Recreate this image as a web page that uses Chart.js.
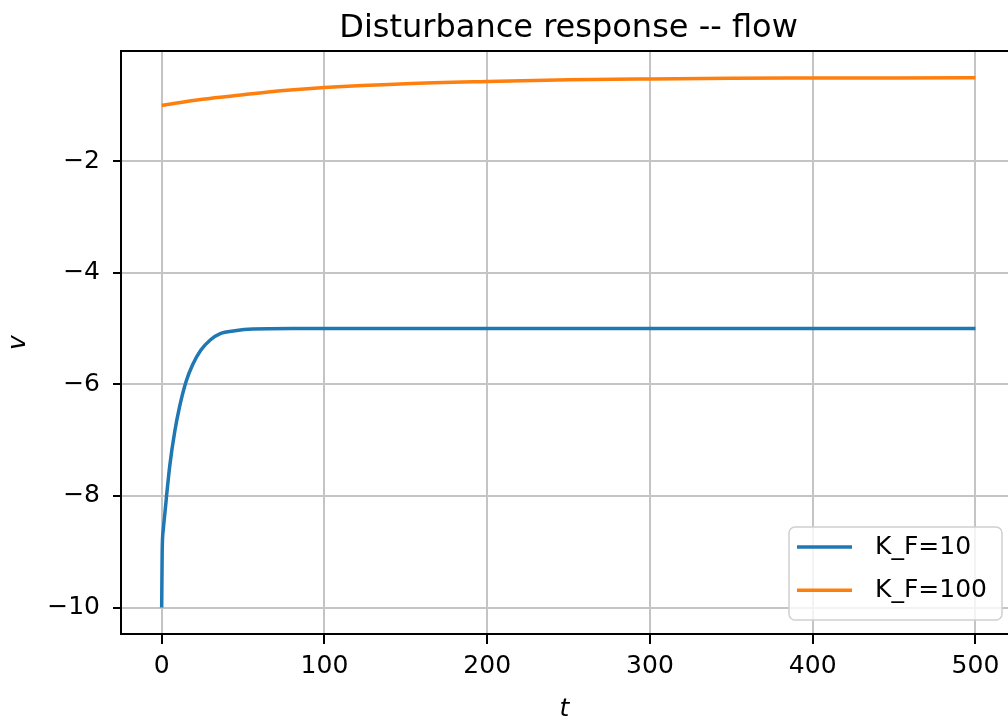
<!DOCTYPE html>
<html>
<head>
<meta charset="utf-8">
<title>Disturbance response -- flow</title>
<script src="https://cdn.jsdelivr.net/npm/chart.js@4.4.1/dist/chart.umd.min.js"></script>
<style>
  html, body { margin: 0; padding: 0; background: #fff; }
  canvas { display: block; }
</style>
</head>
<body>
<canvas id="responseChart" width="1008" height="725"></canvas>
<script>
// K_F = 10 response
const tFast = [0, 0.3, 1, 2, 3, 5, 8, 11, 15, 19, 24, 30, 36, 45, 56, 80, 500];
const vFast = [-10, -9.0, -8.6, -8.3, -8.0, -7.45, -6.85, -6.4, -5.95, -5.65, -5.39, -5.2, -5.09, -5.04, -5.01, -5.0, -5.0];

// K_F = 100 response
const tSlow = [0, 25, 50, 75, 100, 150, 200, 250, 300, 350, 400, 450, 500];
const vSlow = [-1.0, -0.89, -0.81, -0.735, -0.68, -0.61, -0.57, -0.54, -0.525, -0.515, -0.51, -0.507, -0.505];

const seriesLabels = ['K_F=10', 'K_F=100'];
const xTicks = [0, 100, 200, 300, 400, 500];
const yTicks = [-10, -8, -6, -4, -2];
const chartTitle = 'Disturbance response -- flow';

const blue = '#1f77b4';
const orange = '#ff7f0e';
const gridColor = '#c4c4c4';
const fontFamily = '"DejaVu Sans", sans-serif';

Chart.defaults.font.family = fontFamily;
Chart.defaults.color = '#000';

const toPoints = (ts, vs) => ts.map((t, i) => ({ x: t, y: vs[i] }));
const minus = v => (v < 0 ? '\u2212' : '') + Math.abs(v);

// title centred over the axes (x runs -25..525, the right part is off canvas)
const axesTitle = {
    id: 'axesTitle',
    afterDraw(chart) {
        const { ctx } = chart;
        const cx = chart.scales.x.getPixelForValue(250);
        ctx.save();
        ctx.font = '32px ' + fontFamily;
        ctx.fillStyle = '#000';
        ctx.textAlign = 'center';
        ctx.textBaseline = 'alphabetic';
        ctx.fillText(chartTitle, cx, 37);
        ctx.restore();
    }
};

// top spine
const topSpine = {
    id: 'topSpine',
    afterDatasetsDraw(chart) {
        const { ctx, chartArea: a } = chart;
        ctx.save();
        ctx.strokeStyle = '#000';
        ctx.lineWidth = 2;
        ctx.beginPath();
        ctx.moveTo(a.left - 1, a.top);
        ctx.lineTo(a.right, a.top);
        ctx.stroke();
        ctx.restore();
    }
};

// legend box sitting inside the plot, lower right
const insideLegend = {
    id: 'insideLegend',
    afterDraw(chart) {
        const { ctx } = chart;
        const box = { x: 789, y: 527, w: 213, h: 93, r: 6 };
        ctx.save();
        ctx.beginPath();
        ctx.roundRect(box.x, box.y, box.w, box.h, box.r);
        ctx.fillStyle = 'rgba(255,255,255,0.8)';
        ctx.fill();
        ctx.strokeStyle = '#d0d0d0';
        ctx.lineWidth = 1.5;
        ctx.stroke();

        ctx.font = '25px ' + fontFamily;
        ctx.textBaseline = 'middle';
        ctx.textAlign = 'left';
        chart.data.datasets.forEach((ds, i) => {
            const y = box.y + 20 + i * 43.3;
            ctx.strokeStyle = ds.borderColor;
            ctx.lineWidth = 3.5;
            ctx.beginPath();
            ctx.moveTo(box.x + 8, y);
            ctx.lineTo(box.x + 63, y);
            ctx.stroke();
            ctx.fillStyle = '#000';
            ctx.fillText(ds.label, box.x + 86, y);
        });
        ctx.restore();
    }
};

const ctxResponse = document.getElementById('responseChart').getContext('2d');
const responseChart = new Chart(ctxResponse, {
    type: 'line',
    data: {
        datasets: [{
            label: seriesLabels[0],
            data: toPoints(tFast, vFast),
            borderColor: blue,
            backgroundColor: blue,
            borderWidth: 3.5,
            pointRadius: 0,
            cubicInterpolationMode: 'monotone',
            fill: false
        }, {
            label: seriesLabels[1],
            data: toPoints(tSlow, vSlow),
            borderColor: orange,
            backgroundColor: orange,
            borderWidth: 3.5,
            pointRadius: 0,
            cubicInterpolationMode: 'monotone',
            fill: false
        }]
    },
    options: {
        responsive: false,
        animation: false,
        devicePixelRatio: 1,
        layout: { padding: { top: 51, left: 0, right: 0, bottom: 0 } },
        plugins: {
            legend: { display: false },
            tooltip: { enabled: false },
            title: { display: false }
        },
        scales: {
            x: {
                type: 'linear',
                min: -25,
                max: 520,
                afterBuildTicks: s => { s.ticks = xTicks.map(v => ({ value: v })); },
                afterFit: s => { s.height = 91; },
                grid: { color: gridColor, lineWidth: 2, tickColor: '#000', tickLength: 10, tickWidth: 2 },
                border: { color: '#000', width: 2 },
                ticks: { font: { size: 25 }, color: '#000', padding: 7, maxRotation: 0 },
                title: { display: true, text: 't', color: '#000', font: { size: 25, style: 'italic' }, padding: { top: 0, bottom: 1 } }
            },
            y: {
                type: 'linear',
                min: -10.475,
                max: -0.025,
                afterBuildTicks: s => { s.ticks = yTicks.map(v => ({ value: v })); },
                afterFit: s => { s.width = 121; },
                grid: { color: gridColor, lineWidth: 2, tickColor: '#000', tickLength: 8, tickWidth: 2 },
                border: { color: '#000', width: 2 },
                ticks: { font: { size: 25 }, color: '#000', padding: 13, callback: minus },
                title: { display: true, text: 'v', color: '#000', font: { size: 25, style: 'italic' }, padding: { top: 3 } }
            }
        }
    },
    plugins: [topSpine, insideLegend, axesTitle]
});
</script>
</body>
</html>
